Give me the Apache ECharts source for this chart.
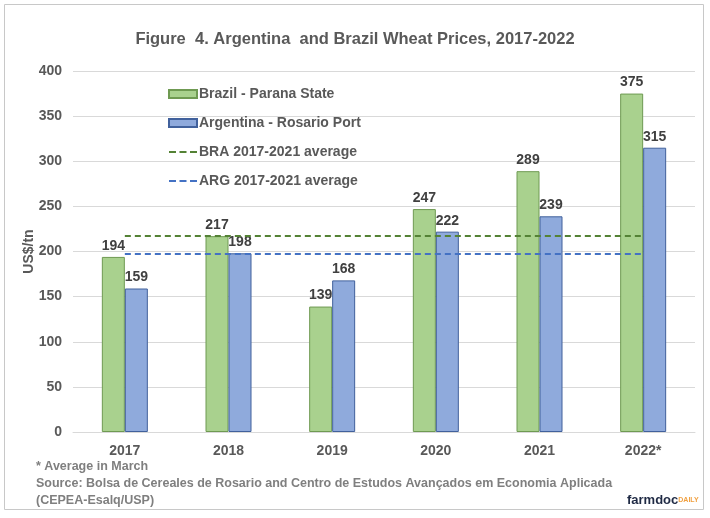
<!DOCTYPE html>
<html><head><meta charset="utf-8">
<script src="https://cdn.jsdelivr.net/npm/echarts@6/dist/echarts.min.js"></script>
<style>html,body{margin:0;padding:0;background:#fff}#c{width:710px;height:518px}</style>
</head><body><div id="c"></div>
<script>
const categories = ['2017','2018','2019','2020','2021','2022*'];
const brazil = [194, 217, 139, 247, 289, 375];
const argentina = [159, 198, 168, 222, 239, 315];
const braAvg = [217.2, 217.2, 217.2, 217.2, 217.2, 217.2];
const argAvg = [197.2, 197.2, 197.2, 197.2, 197.2, 197.2];
const yTicks = [0, 50, 100, 150, 200, 250, 300, 350, 400];

const FONT = '"Liberation Sans", Arial, sans-serif';
const DASH = 'path://M0,3h7v2h-7z M10.5,3h7v2h-7z M21,3h7v2h-7z M0,0h0.01v0.01h-0.01z M27.99,7.99h0.01v0.01h-0.01z';
const chart = echarts.init(document.getElementById('c'));
const lbl = {show:true, position:'top', distance:4, color:'#404040', fontFamily:FONT, fontWeight:'bold', fontSize:14};
chart.setOption({
  animation:false,
  title:{text:'Figure  4. Argentina  and Brazil Wheat Prices, 2017-2022', left:'center', top:26,
    textStyle:{fontFamily:FONT, fontWeight:'bold', fontSize:16.5, color:'#595959'}},
  legend:{orient:'vertical', left:163, top:81, itemGap:13, itemWidth:28, itemHeight:8,
    textStyle:{fontFamily:FONT, fontWeight:'bold', fontSize:14, color:'#595959', padding:[0,0,0,-3], lineHeight:16},
    data:[
      {name:'Brazil - Parana State', icon:'rect'},
      {name:'Argentina - Rosario Port', icon:'rect'},
      {name:'BRA 2017-2021 average', icon:DASH},
      {name:'ARG 2017-2021 average', icon:DASH}]},
  grid:{left:73, right:15, top:71, bottom:86},
  xAxis:{type:'category', data:categories,
    axisLine:{lineStyle:{color:'#d9d9d9'}}, axisTick:{show:false},
    axisLabel:{fontFamily:FONT, fontWeight:'bold', fontSize:14, color:'#595959', margin:12}},
  yAxis:{type:'value', min:yTicks[0], max:yTicks[yTicks.length-1], interval:50,
    name:'US$/tn', nameLocation:'middle', nameGap:37, nameRotate:90, nameMoveOverlap:false,
    nameTextStyle:{fontFamily:FONT, fontWeight:'bold', fontSize:14, color:'#595959'},
    axisLabel:{fontFamily:FONT, fontWeight:'bold', fontSize:14, color:'#595959', margin:11},
    splitLine:{lineStyle:{color:'#d9d9d9'}}},
  series:[
    {name:'Brazil - Parana State', type:'bar', data:brazil, barWidth:23, barGap:'0%',
      itemStyle:{color:'#a9d18e', borderColor:'#6f9a52', borderWidth:1}, label:lbl},
    {name:'Argentina - Rosario Port', type:'bar', data:argentina, barWidth:23,
      itemStyle:{color:'#8faadc', borderColor:'#41619c', borderWidth:1}, label:lbl},
    {name:'BRA 2017-2021 average', type:'line', data:braAvg, symbol:'none', z:5,
      lineStyle:{color:'#548235', width:2, type:[6,4]}, itemStyle:{color:'#548235'}},
    {name:'ARG 2017-2021 average', type:'line', data:argAvg, symbol:'none', z:5,
      lineStyle:{color:'#4472c4', width:2, type:[6,4]}, itemStyle:{color:'#4472c4'}}
  ],
  graphic:[
    {type:'rect', shape:{x:4.5, y:4.5, width:699, height:505}, style:{fill:'none', stroke:'#c8c8c8', lineWidth:1}, silent:true},
    {type:'text', left:36, top:460, style:{text:'* Average in March', fontFamily:FONT, fontSize:12.5, fontWeight:'bold', fill:'#7f7f7f'}},
    {type:'text', left:36, top:477, style:{text:'Source: Bolsa de Cereales de Rosario and Centro de Estudos Avançados em Economia Aplicada', fontFamily:FONT, fontSize:12.5, fontWeight:'bold', fill:'#7f7f7f'}},
    {type:'text', left:36, top:494, style:{text:'(CEPEA-Esalq/USP)', fontFamily:FONT, fontSize:12.5, fontWeight:'bold', fill:'#7f7f7f'}},
    {type:'text', left:627, top:494, style:{rich:{a:{fontFamily:FONT, fontSize:13, fontWeight:'bold', fill:'#1f2a44'}, b:{fontFamily:FONT, fontSize:7, fontWeight:'bold', fill:'#f0a040'}}, text:'{a|farmdoc}{b|DAILY}'}}
  ]
});
</script></body></html>
